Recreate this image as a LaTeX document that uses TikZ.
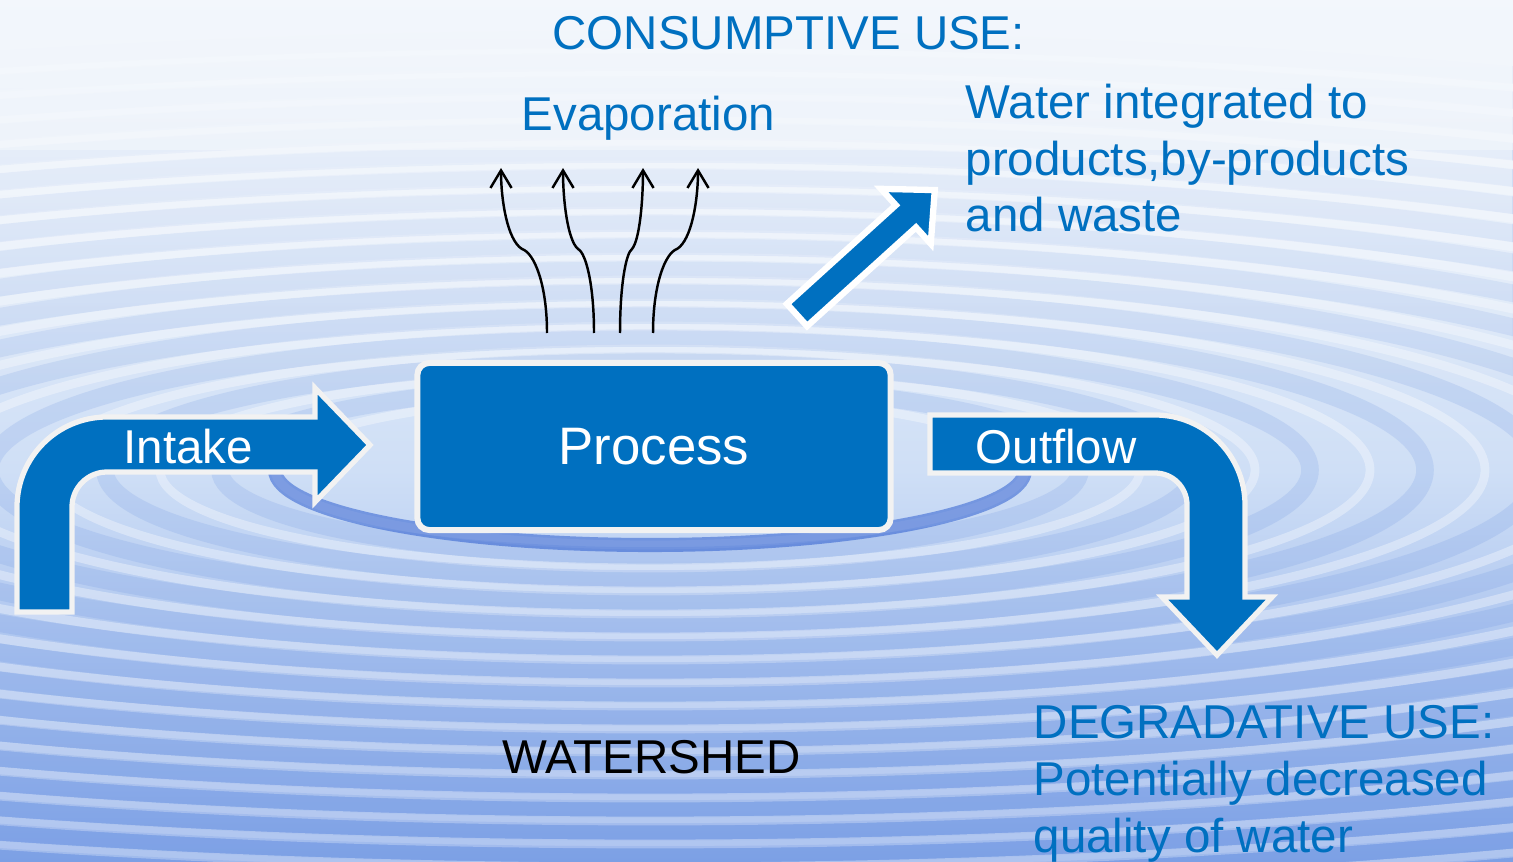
\documentclass[tikz,border=0pt]{standalone}
\usepackage{fontspec}
\setmainfont{Liberation Sans}
\usetikzlibrary{arrows.meta, calc, fadings}
\definecolor{azul}{HTML}{0070C0}
\definecolor{borda}{HTML}{F2F2F2}
\definecolor{ceu}{HTML}{F3F7FC}
\definecolor{agua}{HTML}{CFDFF6}
\definecolor{fundo}{HTML}{83A5E7}
\definecolor{anel}{HTML}{5C88DE}
\definecolor{anelesc}{HTML}{2F5FD0}
\tikzset{
  caixa/.style = {rectangle, rounded corners=3.4pt, draw=borda, fill=azul,
    line width=1.7pt, minimum width=4.73cm, minimum height=1.67cm,
    text=white, font=\fontsize{15}{18}\selectfont},
  seta/.style = {draw=borda, fill=azul, line width=1.5pt, line join=miter},
  rot/.style = {text=azul, font=\fontsize{13.5}{16.2}\selectfont,
    inner sep=0pt, anchor=base west, align=left},
  rotb/.style = {rot, text=white},
  evap/.style = {-{Straight Barb[length=5pt, width=6pt]}, line width=0.7pt},
  onda/.style = {white, opacity=0.35, line width=2.5pt},
  ondab/.style = {anel, opacity=0.16, line width=5pt}
}

\begin{document}
\begin{tikzpicture}[x=0.01cm, y=-0.01cm]
  \useasboundingbox (0,0) rectangle (1513,861);
  % water background with ripples
  \begin{scope}
    \clip (0,0) rectangle (1513,861);
    \shade[top color=ceu, bottom color=agua] (0,0) rectangle (1513,470);
    \shade[top color=agua, bottom color=fundo] (0,470) rectangle (1513,861);
    \foreach \r in {375,490,...,2100} {
      \draw[onda] (650,470) ellipse [x radius=\r, y radius=0.2*\r];
      \draw[ondab] (650,470) ellipse [x radius=\r+55, y radius=0.2*\r+11];
    }
    \draw[anelesc, opacity=0.55, line width=4pt]
      (275,470) arc[start angle=180, end angle=0, x radius=375, y radius=75];
    % calm the water near the top
    \fill[ceu, path fading=south] (0,0) rectangle (1513,390);
    \fill[ceu, opacity=0.6] (0,0) rectangle (1513,150);
  \end{scope}

  % process box
  \node[caixa] (proc) at (654,446.5) {Process};

  % intake
  \draw[seta] (17,612) -- (17,507) arc[start angle=180, end angle=270, radius=90]
    -- (315,417) -- (315,388) -- (370,445) -- (315,502) -- (315,472)
    -- (107,472) arc[start angle=270, end angle=180, radius=35] -- (72,612) -- cycle;
  \node[rotb] (intk) at (123,463) {Intake};

  % outflow
  \draw[seta] (930,415) -- (1155,415) arc[start angle=270, end angle=360, radius=90]
    -- (1245,597) -- (1272,597) -- (1217,655) -- (1162,597) -- (1187,597)
    -- (1187,505) arc[start angle=0, end angle=-90, radius=32] -- (930,473) -- cycle;
  \node[rotb] (outf) at (975,463) {Outflow};

  % products arrow
  \begin{scope}[shift={(797,315)}, rotate=42.2]
    \draw[seta, draw=white, line width=1.8pt] (0,-15) -- (147,-15) -- (147,-37)
      -- (186,0) -- (147,37) -- (147,15) -- (0,15) -- cycle;
  \end{scope}

  % evaporation
  \foreach \i/\xa/\xb/\xc in {1/547/522/501, 2/594/578/563, 3/620/632/643, 4/653/677/698} {
    \coordinate (ev\i) at (\xa,333);
    \coordinate (et\i) at (\xc,168);
    \draw[evap] (ev\i) .. controls (\xa,285) and ({\xb+0.5*(\xa-\xb)},253) .. (\xb,249)
      .. controls ({\xb+0.7*(\xc-\xb)},240) and (\xc,200) .. (et\i);
  }

  % multi-line labels sit on their last baseline
  \node[rot] (cons) at (552,50) {CONSUMPTIVE USE:};
  \node[rot] (evapt) at (521,131) {Evaporation};
  \node[rot] (integ) at (965,232) {Water integrated to\\products,by-products\\and waste};
  \node[rot, text=black] (wshed) at (502,773) {WATERSHED};
  \node[rot] (degr) at (1033,852) {DEGRADATIVE USE:\\Potentially decreased\\quality of water};
\end{tikzpicture}
\end{document}
